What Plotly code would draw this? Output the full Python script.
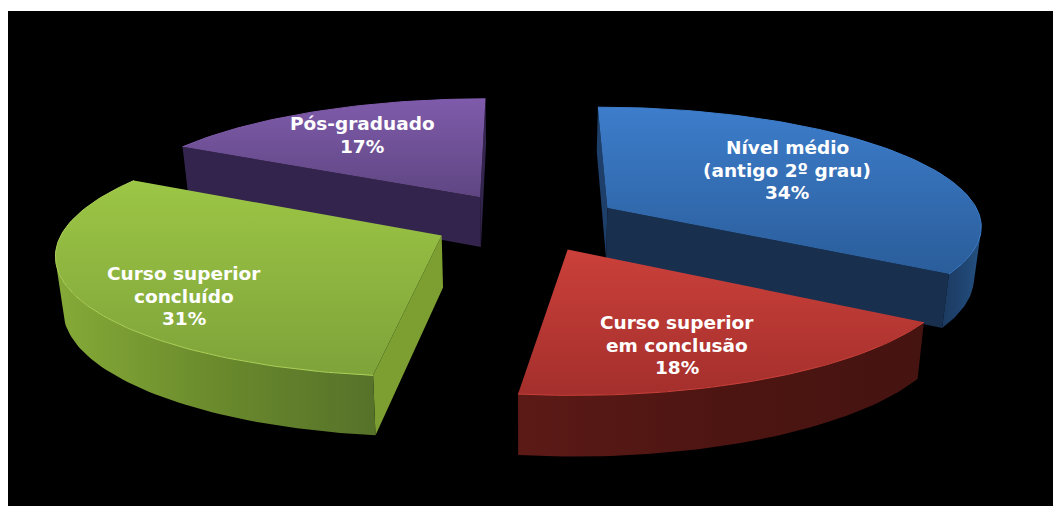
import math
import plotly.graph_objects as go

# Survey shares, clockwise from twelve o'clock
categories = ["Nível médio<br>(antigo 2º grau)", "Curso superior<br>em conclusão",
              "Curso superior<br>concluído", "Pós-graduado"]
shares = [34, 18, 31, 17]

# Perspective model of the exploded pie, in pixels
VX, VY = 526.5, 222.0
SCALE_X, SCALE_Y = 375.0, 118.0
DEPTH_K = 0.135
EXPLODE = 0.25
WALL = 51.0
CONVERGE = 0.016  # horizontal narrowing of the base relative to the top face

# Surfaces: top gradient, start wall, end wall, outer wall shades from left to right
STYLES = [
    dict(top=("#3d7dcb", "#2a5d9a"), start="#1d3f69", end="#192f4e",
         arc=["#1c3a60", "#1f4470", "#24507f"], rim="#3d7dcb"),
    dict(top=("#cb403a", "#a42f2c"), start="#5a1a15", end="#5a1a15",
         arc=["#5c1a16", "#4d1512", "#451310"], rim="#cb403a"),
    dict(top=("#9cc645", "#7ea33a"), start="#7d9f32", end="#7d9f32",
         arc=["#86aa38", "#6a8a2c", "#56722a"], rim="#aed25a"),
    dict(top=("#7f5bab", "#5f4682"), start="#33244d", end="#33244d",
         arc=["#33244d", "#33244d", "#33244d"], rim="#7f5bab"),
]
PAINT_ORDER = [3, 0, 2, 1]

# Label centres and typography
LABEL_POS = [(787, 170), (677, 345), (184, 296), (362, 135)]
LINE_GAP = 22.5
FONT = dict(family="DejaVu Sans", size=18.5, color="white", weight=700)


def project(x, y, drop=0.0):
    d = 1 + DEPTH_K * y
    narrow = 1 - CONVERGE * drop / WALL
    return VX + SCALE_X * x / d * narrow, VY - SCALE_Y * y / d + drop / d


def area(pts):
    return sum(pts[i][0] * pts[(i + 1) % len(pts)][1] - pts[(i + 1) % len(pts)][0] * pts[i][1]
               for i in range(len(pts))) / 2


def polygon(pts, color):
    xs = [p[0] for p in pts] + [pts[0][0]]
    ys = [p[1] for p in pts] + [pts[0][1]]
    return go.Scatter(x=xs, y=ys, mode="lines", fill="toself", fillcolor=color,
                      line=dict(width=0), hoverinfo="skip", showlegend=False)


def wall(a, b, color):
    """Side face under the top edge a->b, kept only when it faces the viewer."""
    pts = [project(*a), project(*b), project(*b, WALL), project(*a, WALL)]
    return polygon(pts, color) if area(pts) < 0 else None


def outer_wall(rim, stops):
    """Curved face below the visible part of the rim, shaded horizontally."""
    visible = [i for i in range(len(rim) - 1)
               if area([project(*rim[i]), project(*rim[i + 1]),
                        project(*rim[i + 1], WALL), project(*rim[i], WALL)]) < 0]
    if not visible:
        return None
    part = rim[visible[0]:visible[-1] + 2]
    pts = [project(*p) for p in part] + [project(*p, WALL) for p in reversed(part)]
    tr = polygon(pts, stops[0])
    xs = [p[0] for p in pts]
    tr.fillgradient = dict(type="horizontal", start=min(xs), stop=max(xs),
                           colorscale=[[i / (len(stops) - 1), c] for i, c in enumerate(stops)])
    return tr


fig = go.Figure()
total = sum(shares)
starts = [sum(shares[:i]) / total * 2 * math.pi for i in range(len(shares))]

for idx in PAINT_ORDER:
    style = STYLES[idx]
    t0 = starts[idx]
    t1 = t0 + shares[idx] / total * 2 * math.pi
    mid = (t0 + t1) / 2
    cx, cy = EXPLODE * math.sin(mid), EXPLODE * math.cos(mid)
    steps = shares[idx] * 3
    rim = [(cx + math.sin(t0 + (t1 - t0) * i / steps), cy + math.cos(t0 + (t1 - t0) * i / steps))
           for i in range(steps + 1)]

    for tr in (wall((cx, cy), rim[0], style["start"]),
               wall(rim[-1], (cx, cy), style["end"]),
               outer_wall(rim, style["arc"])):
        if tr is not None:
            fig.add_trace(tr)

    top_pts = [project(cx, cy)] + [project(*p) for p in rim]
    top = polygon(top_pts, style["top"][0])
    ys = [p[1] for p in top_pts]
    top.fillgradient = dict(type="vertical", start=min(ys), stop=max(ys),
                            colorscale=[[0, style["top"][0]], [1, style["top"][1]]])
    fig.add_trace(top)

    arc_pts = [project(*p) for p in rim]
    fig.add_trace(go.Scatter(x=[p[0] for p in arc_pts], y=[p[1] for p in arc_pts], mode="lines",
                             line=dict(color=style["rim"], width=1), hoverinfo="skip",
                             showlegend=False))

# Each label line is placed on its own so the leading stays fixed
for name, value, (lx, ly) in zip(categories, shares, LABEL_POS):
    lines = name.split("<br>") + [f"{value}%"]
    for n, line in enumerate(lines):
        fig.add_annotation(x=lx, y=ly + (n - (len(lines) - 1) / 2) * LINE_GAP, text=line,
                           showarrow=False, font=FONT, xanchor="center", yanchor="middle")

fig.update_layout(
    width=1053, height=506, margin=dict(l=0, r=0, t=0, b=0),
    paper_bgcolor="white", plot_bgcolor="white", showlegend=False,
    xaxis=dict(range=[0, 1053], visible=False, fixedrange=True),
    yaxis=dict(range=[506, 0], visible=False, fixedrange=True),
    shapes=[dict(type="rect", layer="below", x0=8, x1=1053, y0=11, y1=506,
                 fillcolor="black", line=dict(width=0))],
)
fig.write_html("out.html", config=dict(displayModeBar=False))
